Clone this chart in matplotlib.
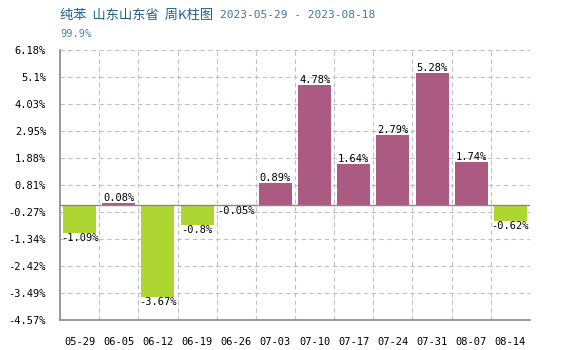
import numpy as np
import matplotlib
matplotlib.use("Agg")
import matplotlib.pyplot as plt

TITLE = "纯苯  山东山东省  周K柱图"
TITLE_DATES = "2023-05-29 - 2023-08-18"
SUBTITLE = "99.9%"

weeks = ["05-29", "06-05", "06-12", "06-19", "06-26", "07-03",
         "07-10", "07-17", "07-24", "07-31", "08-07", "08-14"]
changes = [-1.09, 0.08, -3.67, -0.8, -0.05, 0.89,
           4.78, 1.64, 2.79, 5.28, 1.74, -0.62]
value_labels = ["-1.09%", "0.08%", "-3.67%", "-0.8%", "-0.05%", "0.89%",
                "4.78%", "1.64%", "2.79%", "5.28%", "1.74%", "-0.62%"]

y_min, y_max = -4.57, 6.18
y_tick_labels = ["-4.57%", "-3.49%", "-2.42%", "-1.34%", "-0.27%", "0.81%",
                 "1.88%", "2.95%", "4.03%", "5.1%", "6.18%"]

UP = "#ab5a82"
DOWN = "#add632"
GRID = "#c0c0c0"
AXIS = "#888888"
MONO = "DejaVu Sans Mono"


def main():
    fig = plt.figure(figsize=(5.8, 3.5), dpi=100)
    ax = fig.add_axes([60 / 580, 30 / 350, 470 / 580, 270 / 350])

    x = np.arange(len(weeks))
    colors = [UP if v >= 0 else DOWN for v in changes]
    ax.bar(x, changes, width=0.84, color=colors, zorder=3)

    ax.set_xlim(-0.5, len(weeks) - 0.5)
    ax.set_ylim(y_min, y_max)

    yt = np.linspace(y_min, y_max, len(y_tick_labels))
    ax.set_yticks(yt)
    ax.set_yticklabels(y_tick_labels, family=MONO, fontsize=7.5)
    ax.set_xticks(x)
    ax.set_xticklabels(weeks, family=MONO, fontsize=7.5)
    ax.tick_params(length=0, pad=10, colors="black")
    ax.tick_params(axis="x", pad=12)

    for t in yt:
        ax.axhline(t, color=GRID, lw=0.8, ls=(0, (4, 3)), zorder=1)
    for b in np.arange(0.5, len(weeks), 1.0):
        ax.axvline(b, color=GRID, lw=0.8, ls=(0, (4, 3)), zorder=1)
    ax.axhline(0, color=AXIS, lw=1.0, zorder=4)

    for s in ["top", "right"]:
        ax.spines[s].set_visible(False)
    for s in ["left", "bottom"]:
        ax.spines[s].set_color(AXIS)
        ax.spines[s].set_linewidth(1.2)

    for xi, v, lab in zip(x, changes, value_labels):
        if v >= 0:
            ax.text(xi, v, lab, ha="center", va="bottom", family=MONO,
                    fontsize=7.5, zorder=5)
        else:
            ax.text(xi, v, lab, ha="center", va="top", family=MONO,
                    fontsize=7.5, zorder=5)

    fig.text(60 / 580, 1 - 15 / 350, TITLE, color="#1f5f8f", fontsize=9.5,
             va="center", family=["Noto Sans CJK SC", "DejaVu Sans"])
    fig.text(220 / 580, 1 - 15 / 350, TITLE_DATES, color="#3a78a6",
             fontsize=8, va="center", family=MONO)
    fig.text(60 / 580, 1 - 34 / 350, SUBTITLE, color="#4a86b8", fontsize=7.5,
             va="center", family=MONO)

    fig.savefig("out.png", dpi=100)
    plt.close(fig)


if __name__ == "__main__":
    main()
